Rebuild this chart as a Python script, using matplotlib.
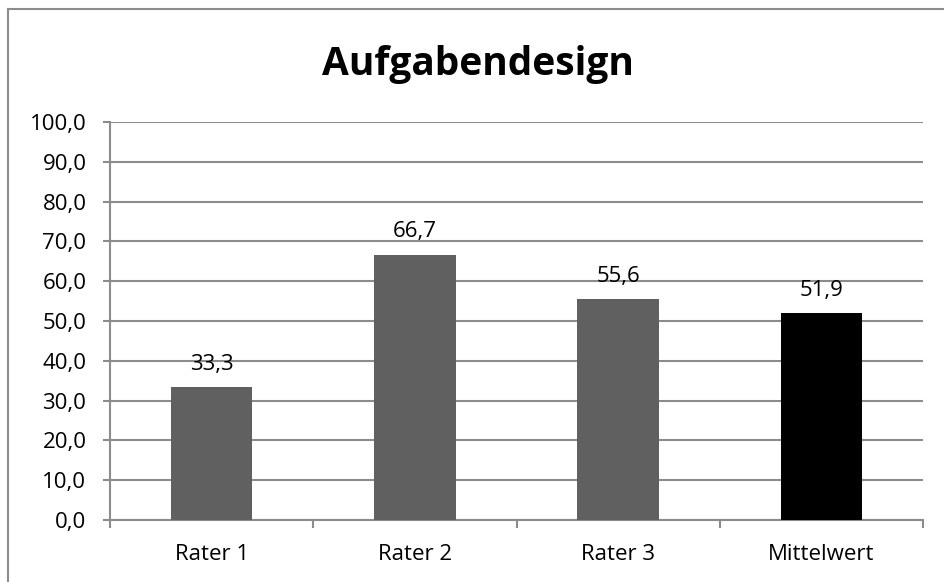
import matplotlib
matplotlib.use("Agg")
import matplotlib.pyplot as plt
from matplotlib.lines import Line2D
from matplotlib.ticker import FixedLocator

categories = ["Rater 1", "Rater 2", "Rater 3", "Mittelwert"]
values = [33.3, 66.7, 55.6, 51.9]
colors = ["#606060", "#606060", "#606060", "#000000"]
yticks = [0, 10, 20, 30, 40, 50, 60, 70, 80, 90, 100]
title = "Aufgabendesign"

plt.rcParams['font.family'] = ['Open Sans', 'DejaVu Sans']

fig = plt.figure(figsize=(9.44, 5.82), dpi=100)
W, H = 944, 582
ax = fig.add_axes([110 / W, 1 - 520 / H, (923 - 110) / W, (520 - 122) / H])

x = list(range(len(categories)))
ax.bar(x, values, width=0.4, color=colors, zorder=3)
for xi, v in zip(x, values):
    ax.text(xi, v + 4.3, f"{v:.1f}".replace(".", ","), ha="center", va="baseline",
            fontsize=16, color="#000000")

ax.set_xlim(-0.5, len(categories) - 0.5)
ax.set_ylim(0, 100)
ax.set_yticks(yticks)
ax.set_yticklabels([f"{t:.1f}".replace(".", ",") for t in yticks], fontsize=16)
ax.set_xticks(x)
ax.set_xticklabels(categories, fontsize=16)
ax.yaxis.grid(True, color="#8c8c8c", linewidth=1.5, zorder=0)
ax.set_axisbelow(True)
for s in ["top", "right"]:
    ax.spines[s].set_visible(False)
for s in ["left", "bottom"]:
    ax.spines[s].set_color("#8c8c8c")
    ax.spines[s].set_linewidth(1.5)
ax.tick_params(axis="y", length=5, width=1.5, color="#8c8c8c", pad=12)
ax.tick_params(axis="x", length=0, pad=17)
ax.xaxis.set_minor_locator(FixedLocator([-0.5, 0.5, 1.5, 2.5, 3.5]))
ax.tick_params(axis="x", which="minor", length=6, width=1.5, color="#8c8c8c")

fig.text(478 / W, 1 - 75 / H, title, ha="center", va="baseline", fontsize=28, fontweight="bold")

# outer border (left and top)
fig.add_artist(Line2D([8 / W, 8 / W], [0, 1 - 9 / H], transform=fig.transFigure, color="#8c8c8c", linewidth=1.5))
fig.add_artist(Line2D([8 / W, 1], [1 - 9 / H, 1 - 9 / H], transform=fig.transFigure, color="#8c8c8c", linewidth=1.5))

fig.savefig("out.png", dpi=100)
